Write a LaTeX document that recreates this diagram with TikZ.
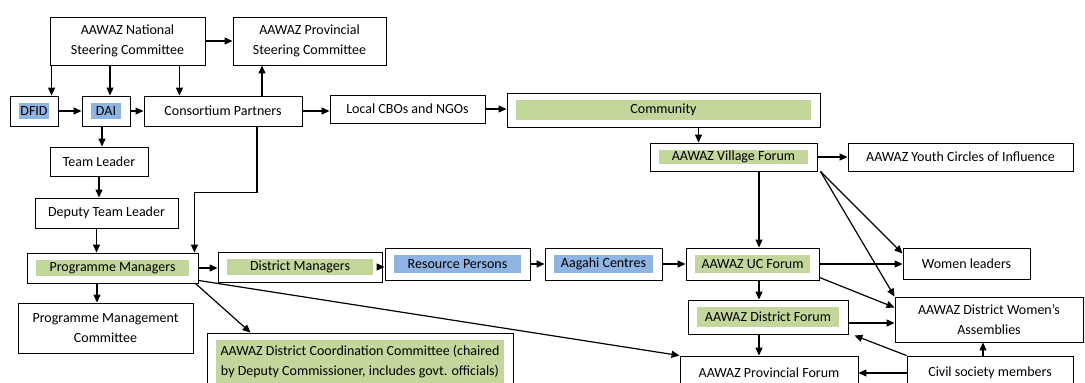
\documentclass[tikz,border=0pt]{standalone}
\usepackage{fontspec}
\setmainfont{Carlito}
\usetikzlibrary{arrows.meta}
\definecolor{hlgreen}{HTML}{C3D69B}
\definecolor{hlblue}{HTML}{8EB4E3}

\begin{document}
\begin{tikzpicture}[x=1pt, y=-1pt, >={Triangle[length=8pt,width=7pt]},
  font=\fontsize{14}{20}\selectfont,
  box/.style={draw, line width=0.9pt, align=center, inner sep=2pt},
  dims/.style 2 args={minimum width=#1pt, minimum height=#2pt},
  hl/.style={path picture={\fill[#1]
      ([shift={(9pt,7pt)}]path picture bounding box.south west) rectangle
      ([shift={(-9pt,-7pt)}]path picture bounding box.north east);}},
  greenbox/.style={box, hl=hlgreen},
  bluebox/.style={box, hl=hlblue},
  flow/.style={->, line width=1.2pt}]
  \useasboundingbox (0,0) rectangle (1085,383);
  % ------------------------------------------------------------------ steering committees and donors
  \node[box, dims={155}{48}] (nsc) at (127.5,41) {AAWAZ National\\Steering Committee};
  \node[box, dims={153}{48}] (psc) at (309.5,41) {AAWAZ Provincial\\Steering Committee};
  \node[bluebox, dims={48}{30}] (dfid) at (34,111) {DFID};
  \node[bluebox, dims={48}{30}] (dai) at (106,111) {DAI};
  \node[box, dims={158}{30}] (cp) at (223,111) {Consortium Partners};
  \node[box, dims={155}{28}] (cbo) at (407.5,109) {Local CBOs and NGOs};
  \node[greenbox, dims={313}{34}] (comm) at (663.5,110) {Community};
  \node[greenbox, dims={167}{28}] (vf) at (733.5,157) {AAWAZ Village Forum};
  \node[box, dims={225}{28}] (youth) at (960.5,157) {AAWAZ Youth Circles of Influence};
  % ------------------------------------------------------------------ team
  \node[box, dims={98}{29}] (tl) at (99,161.5) {Team Leader};
  \node[box, dims={143}{30}] (dtl) at (106.5,213) {Deputy Team Leader};
  % ------------------------------------------------------------------ managers row
  \node[greenbox, dims={171}{30}] (pm) at (112.5,268) {Programme Managers};
  \node[greenbox, dims={164}{30}] (dm) at (300,267) {District Managers};
  \node[bluebox, dims={145}{32}] (rp) at (457.5,264) {Resource Persons};
  \node[bluebox, dims={117}{32}] (aag) at (603.5,264) {Aagahi Centres};
  \node[greenbox, dims={133}{32}] (uc) at (752.5,264) {AAWAZ UC Forum};
  \node[box, dims={127}{31}] (wl) at (966.5,263.5) {Women leaders};
  % ------------------------------------------------------------------ bottom rows
  \node[box, dims={175}{50}] (pmc) at (105.5,328) {Programme Management\\Committee};
  \node[greenbox, dims={306}{57}] (dcc) at (360,361.5)
    {AAWAZ District Coordination Committee (chaired\\by Deputy Commissioner, includes govt. officials)};
  \node[greenbox, dims={160}{34}] (df) at (768,317) {AAWAZ District Forum};
  \node[box, dims={188}{45}] (dwa) at (989,319.5) {AAWAZ District Women’s\\Assemblies};
  \node[box, dims={178}{34}] (pf) at (769,373) {AAWAZ Provincial Forum};
  \node[box, dims={166}{34}] (csm) at (990,373) {Civil society members};
  % ------------------------------------------------------------------ top connectors
  \draw[flow] (nsc.east) -- (psc.west);
  \draw[flow] ([xshift=2pt]nsc.south west) -- ([xshift=2pt]nsc.south west |- dfid.north);
  \draw[flow] ([xshift=4pt]dai.north |- nsc.south) -- ([xshift=4pt]dai.north);
  \draw[flow] ([xshift=-26pt]nsc.south east) -- ([xshift=-26pt]nsc.south east |- cp.north);
  \draw[flow] (dfid.east) -- (dai.west);
  \draw[flow] (dai.east) -- (cp.west);
  \draw[flow] ([xshift=39pt]cp.north) -- ([xshift=39pt]cp.north |- psc.south);
  \draw[flow] (cp.east) -- (cp.east -| cbo.west);
  \draw[flow] (cbo.east) -- (cbo.east -| comm.west);
  \draw[flow] ([xshift=-35pt]vf.north |- comm.south) -- ([xshift=-35pt]vf.north);
  \draw[flow] (vf.east) -- (youth.west);
  % ------------------------------------------------------------------ team connectors
  \draw[flow] ([xshift=3pt]tl.north |- dai.south) -- ([xshift=3pt]tl.north);
  \draw[flow] (tl.south) -- (tl.south |- dtl.north);
  \draw[flow] ([xshift=-10pt]dtl.south) -- ([xshift=-10pt]dtl.south |- pm.north);
  \draw[flow] ([xshift=34pt]cp.south) -- ++(0,66) -| ([xshift=-4pt]pm.north east);
  % ------------------------------------------------------------------ managers row connectors
  \draw[flow] ([xshift=-15.5pt]pm.south) -- ([xshift=-15.5pt]pm.south |- pmc.north);
  \draw[flow] (pm.east) -- (pm.east -| dm.west);
  \draw[flow] (dm.east) -- (dm.east -| rp.west);
  \draw[flow] (rp.east) -- (aag.west);
  \draw[flow] (aag.east) -- (uc.west);
  \draw[flow] (uc.east) -- (uc.east -| wl.west);
  \draw[flow] ([xshift=-3pt]pm.south east) -- ([xshift=44pt]dcc.north west);
  \draw[flow] ([yshift=3pt]pm.south east) -- (pf.north west);
  % ------------------------------------------------------------------ forum connectors
  \draw[flow] ([xshift=6.5pt]uc.north |- vf.south) -- ([xshift=6.5pt]uc.north);
  \draw[flow] ([xshift=3pt]vf.south east) -- ([yshift=10pt]wl.west);
  \draw[flow] ([xshift=3pt]vf.south east) -- (dwa.north west);
  \draw[flow] ([yshift=3pt]uc.south east) -- ([yshift=12pt]dwa.west);
  \draw[flow] ([xshift=6.5pt]uc.south) -- ([xshift=6.5pt]uc.south |- df.north);
  \draw[flow] ([yshift=-6pt]df.east) -- ([yshift=-6pt]df.east -| dwa.west);
  \draw[flow] ([xshift=-9pt]df.south) -- ([xshift=-9pt]df.south |- pf.north);
  \draw[flow] (csm.north west) -- ([xshift=6pt,yshift=-1pt]df.south east);
  \draw[flow] (csm.west) -- (pf.east);
  \draw[flow] ([xshift=-7pt]csm.north) -- ([xshift=-7pt]csm.north |- dwa.south);
\end{tikzpicture}
\end{document}
